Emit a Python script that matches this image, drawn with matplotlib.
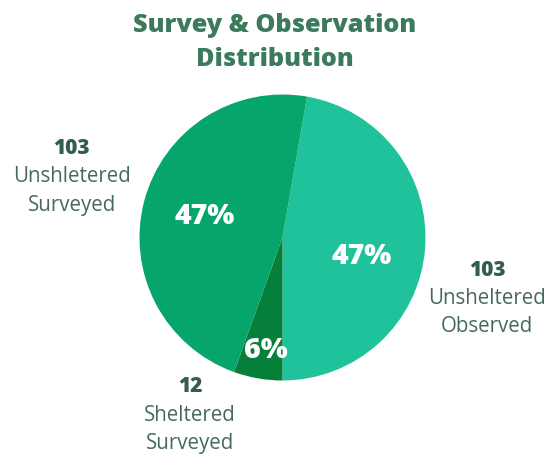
import matplotlib
matplotlib.use("Agg")
import matplotlib.pyplot as plt
import numpy as np

categories = ["Unsheltered Observed", "Sheltered Surveyed", "Unshletered Surveyed"]
label_lines = [["Unsheltered", "Observed"], ["Sheltered", "Surveyed"], ["Unshletered", "Surveyed"]]
values = [103, 12, 103]
colors = ["#1FC29B", "#067F3A", "#06A56B"]

W, H = 549, 454
fig = plt.figure(figsize=(W / 100, H / 100), dpi=100)
ax = fig.add_axes([0, 0, 1, 1])

cx, cy, r = 282.5, H - 237.5, 143
total = sum(values)
start = -90 + 360 * values[0] / total
ax.pie(values, colors=colors, startangle=start, counterclock=False,
       center=(cx, cy), radius=r, frame=True,
       wedgeprops=dict(linewidth=0))
ax.set_xlim(0, W)
ax.set_ylim(0, H)
ax.set_aspect("equal")
ax.axis("off")

title_color = "#3B7A5C"
num_color = "#345E4A"
lab_color = "#46695A"
fam = ["Open Sans", "DejaVu Sans"]

fig.text(0.5, 1 - 25 / H, "Survey & Observation", ha="center", va="center",
         fontsize=18.2, fontweight="heavy", color=title_color, family=fam)
fig.text(0.5, 1 - 59 / H, "Distribution", ha="center", va="center",
         fontsize=18.2, fontweight="heavy", color=title_color, family=fam)

# percent labels (pixel positions)
pct_pos = [(362, 256), (266, 351), (205, 217)]
for v, (px, py) in zip(values, pct_pos):
    ax.text(px, H - py, f"{round(100 * v / total)}%", ha="center", va="center",
            fontsize=20.5, fontweight="heavy", color="white", family=fam)

# outside labels
lab_pos = [(487, 270), (190, 387), (72, 148)]
for v, lines, (px, py) in zip(values, label_lines, lab_pos):
    ax.text(px, H - py, str(v), ha="center", va="center", fontsize=15,
            fontweight="heavy", color=num_color, family=fam)
    for i, ln in enumerate(lines):
        ax.text(px, H - (py + 28.5 * (i + 1)), ln, ha="center", va="center",
                fontsize=14.8, color=lab_color, family=fam)

fig.savefig("out.png", dpi=100)
